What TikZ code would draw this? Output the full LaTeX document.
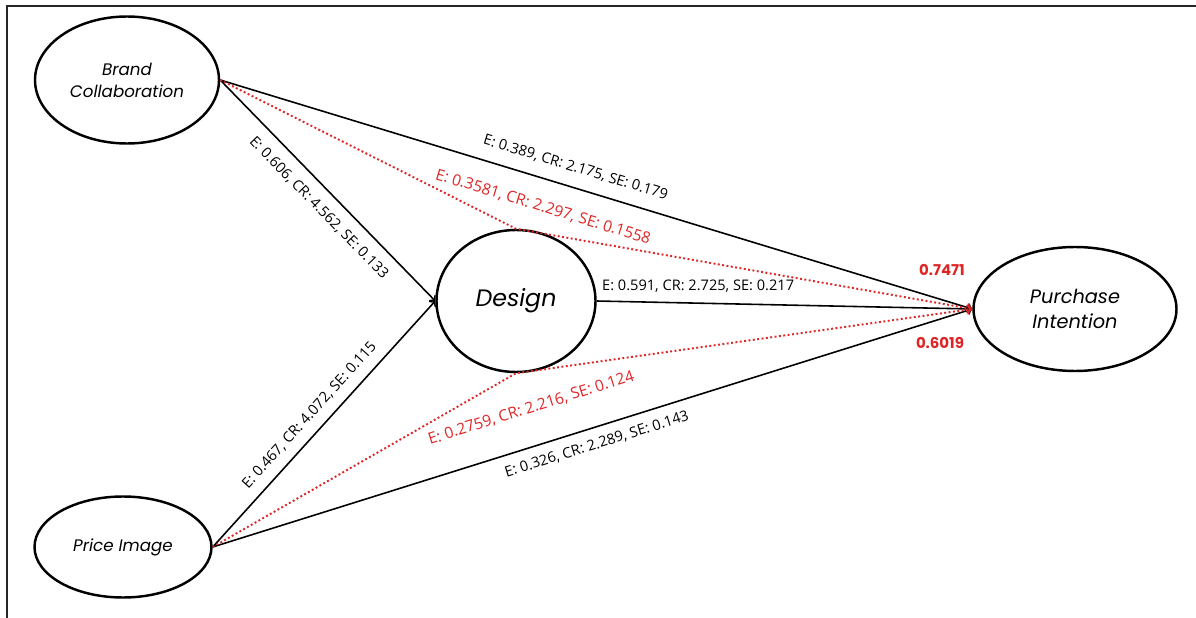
\documentclass[tikz,border=0pt]{standalone}
\usepackage{fontspec}
\setmainfont{Open Sans}
\newfontfamily\namefont{Poppins}
\usetikzlibrary{positioning,shapes.geometric}
\definecolor{effred}{RGB}{222,38,38}

\begin{document}
\begin{tikzpicture}[->, >=to, on grid,
latent/.style ={ellipse, draw, line width=1.4pt, inner sep=0pt, align=center,
  font=\namefont\itshape\fontsize{9.5}{12.5}\selectfont},
direct/.style ={line width=0.9pt},
mediated/.style ={line width=1.1pt, effred, dash pattern=on 1.1pt off 1.4pt},
coef/.style ={font=\fontsize{8.3}{10}\selectfont, inner sep=1pt, sloped},
redcoef/.style ={coef, font=\fontsize{8.9}{10}\selectfont, text=effred},
total/.style ={font=\namefont\bfseries\fontsize{8.5}{10}\selectfont, text=effred}]
\useasboundingbox (0,0) rectangle (23.92,-12.36);
\draw[-, line width=1.1pt, black!85] (23.92,-0.12) -- (0.14,-0.12) -- (0.14,-12.36);

\node[latent, minimum width=3.68cm, minimum height=2.54cm] (brand) at (2.54,-1.60) {Brand\\Collaboration};
\node[latent, minimum width=3.54cm, minimum height=2.02cm] (price) [below left =9.34cm and 0.08cm of brand] {Price Image};
\node[latent, minimum width=3.18cm, minimum height=2.84cm, font=\namefont\itshape\fontsize{13.5}{16}\selectfont] (design) [below right =4.42cm and 7.78cm of brand] {Design};
\node[latent, minimum width=4.06cm, minimum height=2.48cm, font=\namefont\itshape\fontsize{11}{14}\selectfont] (purchase) [below right =0.16cm and 11.18cm of design] {Purchase\\Intention};

% paths into the mediator
\draw[direct] (brand.east) -- node[coef, pos=0.52, below=5.5pt] {E: 0.606, CR: 4.562, SE: 0.133} (design.west);
\draw[direct] (price.east) -- node[coef, pos=0.49, above=4.5pt] {E: 0.467, CR: 4.072, SE: 0.115} (design.west);

% direct paths into purchase intention
\draw[direct] (brand.east) -- node[coef, pos=0.465, above=6.2pt] {E: 0.389, CR: 2.175, SE: 0.179}
  node[redcoef, pos=0.44, below=10.5pt] {E: 0.3581, CR: 2.297, SE: 0.1558} (purchase.west);
\draw[direct] (design.east) -- node[coef, sloped=false, pos=0.27, above=4.5pt] {E: 0.591, CR: 2.725, SE: 0.217} (purchase.west);
\draw[direct] (price.east) -- node[coef, pos=0.499, below=4.7pt] {E: 0.326, CR: 2.289, SE: 0.143}
  node[redcoef, pos=0.434, above=16pt] {E: 0.2759, CR: 2.216, SE: 0.124} (purchase.west);

% indirect paths through design
\draw[mediated] (brand.east) -- (design.north) -- (purchase.west);
\draw[mediated] (price.east) -- (design.south) -- (purchase.west);

\node[total] (upper) [above left =0.78cm and 2.66cm of purchase] {0.7471};
\node[total] (lower) [below left =0.68cm and 2.70cm of purchase] {0.6019};
\end{tikzpicture}
\end{document}
